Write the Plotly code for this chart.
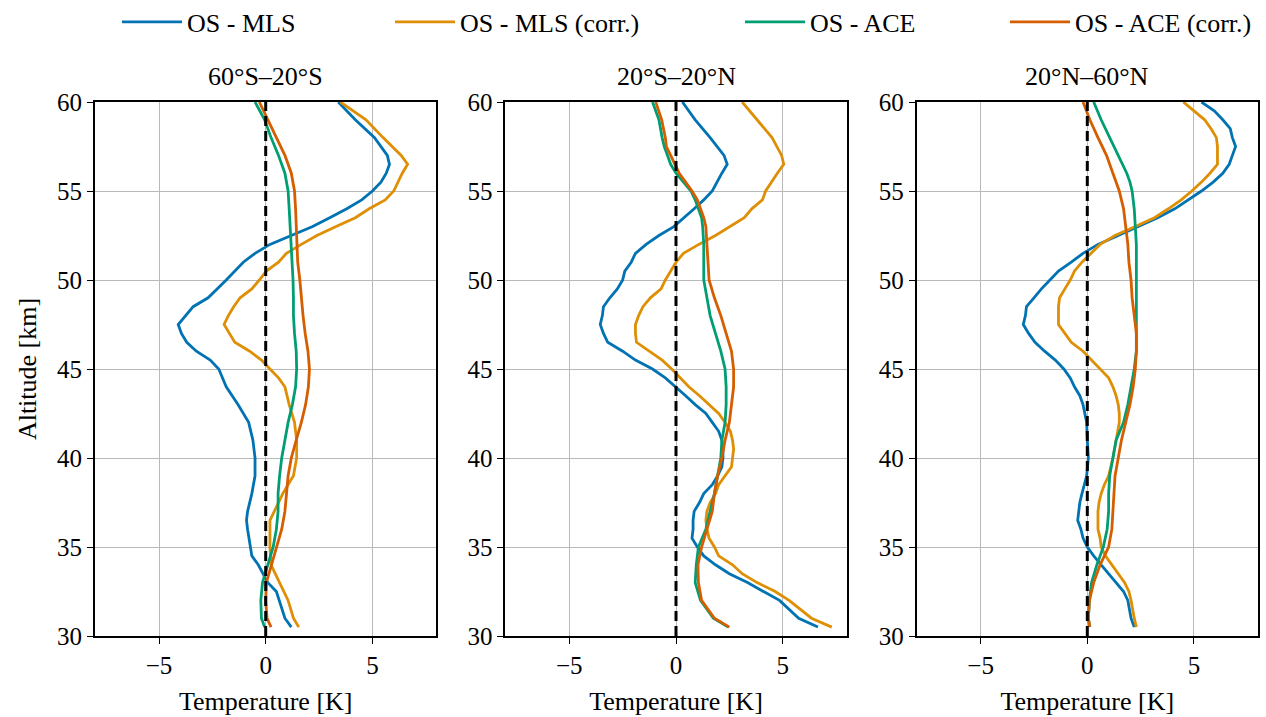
import plotly.graph_objects as go

# ---------------- data ----------------
panel_titles = ["60°S–20°S", "20°S–20°N", "20°N–60°N"]
series_names = ["OS - MLS", "OS - MLS (corr.)", "OS - ACE", "OS - ACE (corr.)"]
series_colors = ["#0173b2", "#de8f05", "#029e73", "#d55e00"]

# Panel 1: 60°S–20°S
p1_mls_alt = [60, 59, 58, 57, 56.5, 56, 55.5, 55, 54.5, 54, 53.5, 53, 52.5, 52, 51.5, 51, 50, 49, 48.5, 48,
              47.5, 47, 46.5, 46, 45.5, 45, 44, 43, 42, 41, 40, 39, 38, 37, 36.5, 36, 35, 34.5, 34, 33, 32.5, 31, 30.5]
p1_mls_T = [3.4, 4.2, 5.1, 5.7, 5.8, 5.65, 5.4, 5.0, 4.5, 3.8, 3.0, 2.2, 1.2, 0.2, -0.5, -1.05, -1.85, -2.7, -3.4, -3.75,
            -4.1, -3.95, -3.7, -3.25, -2.6, -2.2, -1.85, -1.3, -0.8, -0.6, -0.5, -0.5, -0.65, -0.85, -0.9, -0.85, -0.7, -0.65, -0.35, 0.1, 0.5, 0.9, 1.2]

p1_mlsc_alt = [60, 59, 58, 57, 56.5, 56, 55, 54.5, 54, 53.5, 53, 52.5, 52, 51.5, 51, 50.5, 50, 49.5, 49, 48.5, 48,
               47.5, 47, 46.5, 46, 45.5, 45, 44.5, 44, 43, 42, 41, 40, 39, 38, 37, 36.5, 36, 35, 34, 33, 32, 31, 30.5]
p1_mlsc_T = [3.5, 4.7, 5.5, 6.35, 6.65, 6.4, 6.0, 5.6, 4.85, 4.2, 3.3, 2.4, 1.67, 0.97, 0.6, 0.03, -0.3, -0.65, -1.2, -1.5, -1.75,
             -1.95, -1.7, -1.45, -0.75, -0.2, 0.2, 0.6, 0.9, 1.1, 1.35, 1.45, 1.45, 1.3, 0.8, 0.4, 0.2, 0.2, 0.2, 0.25, 0.65, 1.05, 1.3, 1.55]

p1_ace_alt = [60, 59, 58, 57, 56, 55, 54, 53, 52, 51, 50, 49, 48, 47, 46, 45, 44, 43, 42, 41, 40, 39, 38, 37, 36, 35, 34, 33, 32, 31, 30.5]
p1_ace_T = [-0.5, -0.05, 0.25, 0.6, 0.9, 1.05, 1.1, 1.15, 1.2, 1.23, 1.28, 1.3, 1.3, 1.35, 1.43, 1.45, 1.4, 1.25, 1.05, 0.9,
            0.75, 0.65, 0.58, 0.58, 0.5, 0.35, 0.1, -0.15, -0.23, -0.2, -0.05]

p1_acec_alt = [60, 59, 58, 57, 56, 55, 54, 53, 52, 51, 50, 49, 48, 47, 46, 45, 44, 43, 42, 41, 40, 39, 38, 37, 36, 35, 34, 33, 32, 31, 30.5]
p1_acec_T = [-0.3, 0.1, 0.5, 0.9, 1.2, 1.35, 1.4, 1.43, 1.47, 1.5, 1.6, 1.67, 1.75, 1.85, 1.98, 2.05, 2.0, 1.87, 1.67, 1.43,
             1.2, 1.05, 0.97, 0.9, 0.75, 0.5, 0.25, 0.03, 0.0, 0.06, 0.25]

# Panel 2: 20°S–20°N
p2_mls_alt = [60, 59, 58, 57, 56.5, 56, 55, 54.5, 54, 53.5, 53, 52.5, 52, 51.5, 51, 50.5, 50, 49.5, 49, 48.5, 48, 47.5, 47,
              46.5, 46, 45.5, 45, 44.5, 44, 43.5, 43, 42.5, 42, 41.5, 41, 40.5, 40, 39.5, 39, 38.5, 38, 37.5, 37, 36.5, 36,
              35.5, 35, 34.5, 34, 33.5, 33, 32.5, 32, 31, 30.5]
p2_mls_T = [0.3, 0.9, 1.6, 2.25, 2.4, 2.15, 1.7, 1.3, 0.85, 0.4, -0.1, -0.8, -1.4, -1.9, -2.1, -2.4, -2.5, -2.75, -3.1, -3.4, -3.45, -3.55, -3.4,
            -3.2, -2.5, -1.9, -1.1, -0.5, 0.0, 0.45, 0.9, 1.4, 1.7, 2.0, 2.15, 2.2, 2.2, 2.15, 1.95, 1.7, 1.3, 1.1, 0.85, 0.8, 0.8,
            0.75, 1.0, 1.3, 1.85, 2.5, 3.35, 4.1, 4.85, 5.75, 6.65]

p2_mlsc_alt = [60, 59, 58, 57, 56.5, 56, 55, 54.5, 54, 53.5, 53, 52.5, 52, 51.5, 51, 50.5, 50, 49.5, 49, 48.5, 48, 47.5, 47,
               46.5, 46, 45.5, 45, 44.5, 44, 43.5, 43, 42.5, 42, 41.5, 41, 40.5, 40, 39.5, 39, 38.5, 38, 37.5, 37, 36.5, 36,
               35.5, 35, 34.5, 34, 33.5, 33, 32.5, 32, 31, 30.5]
p2_mlsc_T = [3.1, 3.8, 4.5, 4.95, 5.05, 4.75, 4.2, 4.05, 3.55, 3.2, 2.5, 1.85, 1.07, 0.35, 0.0, -0.25, -0.5, -0.7, -1.2, -1.55, -1.75, -1.9, -1.9,
             -1.85, -1.25, -0.65, -0.2, 0.2, 0.6, 1.1, 1.55, 2.0, 2.3, 2.55, 2.65, 2.7, 2.65, 2.6, 2.3, 2.0, 1.85, 1.6, 1.45, 1.4, 1.45,
             1.55, 1.8, 2.0, 2.65, 3.1, 3.8, 4.65, 5.3, 6.35, 7.3]

p2_ace_alt = [60, 59, 58, 57.5, 57, 56.5, 56, 55.5, 55, 54.5, 54, 53.5, 53, 52, 51, 50, 49, 48, 47, 46, 45, 44, 43, 42, 41,
              40, 39, 38, 37, 36, 35, 34, 33, 32, 31, 30.5]
p2_ace_T = [-1.1, -0.8, -0.65, -0.55, -0.4, -0.25, 0.0, 0.35, 0.7, 0.9, 1.05, 1.2, 1.25, 1.3, 1.3, 1.3, 1.45, 1.6, 1.85, 2.1, 2.3, 2.35, 2.35, 2.3, 2.15,
            2.1, 1.95, 1.8, 1.6, 1.4, 1.05, 0.95, 0.9, 1.15, 1.75, 2.45]

p2_acec_alt = [60, 59, 58, 57.5, 57, 56.5, 56, 55.5, 55, 54.5, 54, 53.5, 53, 52, 51, 50, 49, 48, 47, 46, 45, 44, 43, 42, 41,
               40, 39, 38, 37, 36, 35, 34, 33, 32, 31, 30.5]
p2_acec_T = [-0.95, -0.67, -0.5, -0.45, -0.25, -0.05, 0.15, 0.45, 0.75, 1.0, 1.15, 1.3, 1.4, 1.45, 1.5, 1.55, 1.8, 2.1, 2.35, 2.6, 2.7, 2.7, 2.6, 2.5, 2.3,
             2.15, 1.95, 1.8, 1.7, 1.45, 1.2, 1.03, 1.05, 1.2, 1.8, 2.5]

# Panel 3: 20°N–60°N
p3_mls_alt = [60, 59.5, 59, 58.5, 58, 57.5, 57, 56.5, 56, 55.5, 55, 54.5, 54, 53.5, 53, 52.5, 52, 51.5, 51, 50.5, 50, 49.5, 49,
              48.5, 48, 47.5, 47, 46.5, 46, 45.5, 45, 44.5, 44, 43.5, 43, 42.5, 42, 41, 40, 39, 38.5, 38, 37.5, 37, 36.5, 36,
              35.5, 35, 34.5, 34, 33.5, 33, 32.5, 32, 31, 30.5]
p3_mls_T = [5.35, 5.95, 6.35, 6.7, 6.8, 6.95, 6.8, 6.65, 6.35, 5.9, 5.35, 4.7, 4.1, 3.3, 2.4, 1.45, 0.5, -0.2, -0.75, -1.35, -1.75, -2.15, -2.5,
            -2.85, -2.9, -3.0, -2.75, -2.45, -2.0, -1.5, -1.1, -0.8, -0.6, -0.35, -0.2, -0.1, -0.03, 0.0, 0.05, -0.03, -0.15, -0.25, -0.35, -0.4, -0.45, -0.3,
            -0.2, 0.0, 0.3, 0.65, 1.0, 1.35, 1.7, 1.9, 2.05, 2.2]

p3_mlsc_alt = [60, 59.5, 59, 58.5, 58, 57.5, 57, 56.5, 56, 55.5, 55, 54.5, 54, 53.5, 53, 52.5, 52, 51.5, 51, 50.5, 50, 49.5, 49,
               48.5, 48, 47.5, 47, 46.5, 46, 45.5, 45, 44.5, 44, 43.5, 43, 42.5, 42, 41, 40, 39, 38.5, 38, 37.5, 37, 36.5, 36,
               35.5, 35, 34.5, 34, 33.5, 33, 32.5, 32, 31, 30.5]
p3_mlsc_T = [4.5, 5.0, 5.5, 5.8, 6.05, 6.1, 6.1, 6.1, 5.75, 5.35, 4.9, 4.4, 3.8, 3.15, 2.25, 1.3, 0.6, 0.15, -0.25, -0.6, -0.8, -1.05, -1.3,
             -1.35, -1.35, -1.35, -1.05, -0.75, -0.2, 0.2, 0.6, 1.0, 1.2, 1.35, 1.45, 1.5, 1.5, 1.35, 1.2, 1.0, 0.8, 0.65, 0.55, 0.5, 0.5, 0.5,
             0.6, 0.65, 0.85, 1.15, 1.45, 1.75, 1.95, 2.05, 2.2, 2.3]

p3_ace_alt = [60, 59, 58, 57, 56, 55.5, 55, 54, 53, 52, 51, 50, 49, 48, 47, 46, 45, 44, 43, 42, 41, 40, 39, 38, 37, 36, 35, 34.5, 34,
              33, 32, 31, 30.5]
p3_ace_T = [0.3, 0.65, 1.05, 1.45, 1.85, 2.0, 2.1, 2.2, 2.25, 2.3, 2.3, 2.3, 2.3, 2.3, 2.3, 2.3, 2.2, 2.05, 1.9, 1.7, 1.35, 1.2, 1.05, 1.0, 1.0, 0.93, 0.75, 0.6, 0.45,
            0.2, 0.1, 0.05, 0.12]

p3_acec_alt = [60, 59, 58, 57, 56, 55, 54, 53, 52, 51, 50, 49, 48, 47, 46, 45, 44, 43, 42, 41, 40, 39, 38, 37, 36, 35, 34, 33, 32, 31, 30.5]
p3_acec_T = [-0.2, 0.12, 0.5, 0.9, 1.2, 1.5, 1.7, 1.8, 1.9, 1.95, 2.05, 2.1, 2.2, 2.3, 2.3, 2.25, 2.15, 2.0, 1.8, 1.6, 1.45, 1.3, 1.25, 1.2, 1.15, 1.0, 0.6,
             0.3, 0.1, 0.05, 0.12]

x_tickvals = [-5, 0, 5]
x_ticktext = ["\u22125", "0", "5"]
y_tickvals = [30, 35, 40, 45, 50, 55, 60]

panels = [
    [(p1_mls_alt, p1_mls_T), (p1_mlsc_alt, p1_mlsc_T), (p1_ace_alt, p1_ace_T), (p1_acec_alt, p1_acec_T)],
    [(p2_mls_alt, p2_mls_T), (p2_mlsc_alt, p2_mlsc_T), (p2_ace_alt, p2_ace_T), (p2_acec_alt, p2_acec_T)],
    [(p3_mls_alt, p3_mls_T), (p3_mlsc_alt, p3_mlsc_T), (p3_ace_alt, p3_ace_T), (p3_acec_alt, p3_acec_T)],
]

# ---------------- figure ----------------
W, H = 1266, 717
ML, MR, MT, MB = 95, 6, 102, 79
PW = W - ML - MR
FONT = "Liberation Serif"
TICK_SIZE = 25
LABEL_SIZE = 26
px_left = [95, 506, 918]
px_right = [437, 848, 1260]
domains = [[(l - ML) / PW, (r - ML) / PW] for l, r in zip(px_left, px_right)]

fig = go.Figure()
legend_ids = ["legend", "legend2", "legend3", "legend4"]

for p, series in enumerate(panels):
    xa = "x" if p == 0 else f"x{p+1}"
    ya = "y" if p == 0 else f"y{p+1}"
    for s, (alt, T) in enumerate(series):
        fig.add_trace(go.Scatter(
            x=T, y=alt, mode="lines", name=series_names[s],
            line=dict(color=series_colors[s], width=2.8),
            xaxis=xa, yaxis=ya, showlegend=(p == 0), legend=legend_ids[s],
        ))

axis_common = dict(
    showline=True, linecolor="black", linewidth=1.8, mirror=True,
    ticks="outside", ticklen=6, tickwidth=1.4, tickcolor="black",
    showgrid=True, gridcolor="#b9b9b9", gridwidth=0.9, zeroline=False,
    tickfont=dict(family=FONT, size=TICK_SIZE, color="black"),
)

layout_axes = {}
for p in range(3):
    xkey = "xaxis" if p == 0 else f"xaxis{p+1}"
    ykey = "yaxis" if p == 0 else f"yaxis{p+1}"
    ya = "y" if p == 0 else f"y{p+1}"
    xa = "x" if p == 0 else f"x{p+1}"
    layout_axes[xkey] = dict(
        axis_common, domain=domains[p], range=[-8, 8], tickvals=x_tickvals, ticktext=x_ticktext,
        anchor=ya,
        title=dict(text="Temperature [K]", font=dict(family=FONT, size=LABEL_SIZE, color="black"), standoff=14),
    )
    layout_axes[ykey] = dict(
        axis_common, domain=[0, 1], range=[30, 60], tickvals=y_tickvals, anchor=xa,
    )
layout_axes["yaxis"]["title"] = dict(text="Altitude [km]", font=dict(family=FONT, size=LABEL_SIZE, color="black"), standoff=13)

fig.update_layout(**layout_axes)

# zero reference lines
for p in range(3):
    xr = "x" if p == 0 else f"x{p+1}"
    yr = "y" if p == 0 else f"y{p+1}"
    fig.add_shape(type="line", xref=xr, yref=f"{yr} domain", x0=0, x1=0, y0=0, y1=1,
                  line=dict(color="black", width=3, dash="10px,5px"), layer="above")

# panel titles
for p in range(3):
    fig.add_annotation(text=panel_titles[p], xref="paper", yref="paper",
                       x=sum(domains[p]) / 2, xanchor="center", y=1, yanchor="bottom", yshift=9,
                       showarrow=False, font=dict(family=FONT, size=LABEL_SIZE, color="black"))

legend_x_px = [117, 390, 740, 1005]
legend_defs = {}
for i, lid in enumerate(legend_ids):
    legend_defs[lid] = dict(
        x=legend_x_px[i] / W, xref="container", xanchor="left",
        y=1 - 22 / H, yref="container", yanchor="middle",
        orientation="h", bgcolor="rgba(0,0,0,0)",
        font=dict(family=FONT, size=LABEL_SIZE, color="black"),
        itemwidth=60,
    )

fig.update_layout(
    width=W, height=H,
    margin=dict(l=ML, r=MR, t=MT, b=MB),
    plot_bgcolor="white", paper_bgcolor="white",
    font=dict(family=FONT, color="black"),
    **legend_defs,
)

fig.write_html("out.html", config={"displayModeBar": False},
               post_script="document.body.style.margin='0px';")
